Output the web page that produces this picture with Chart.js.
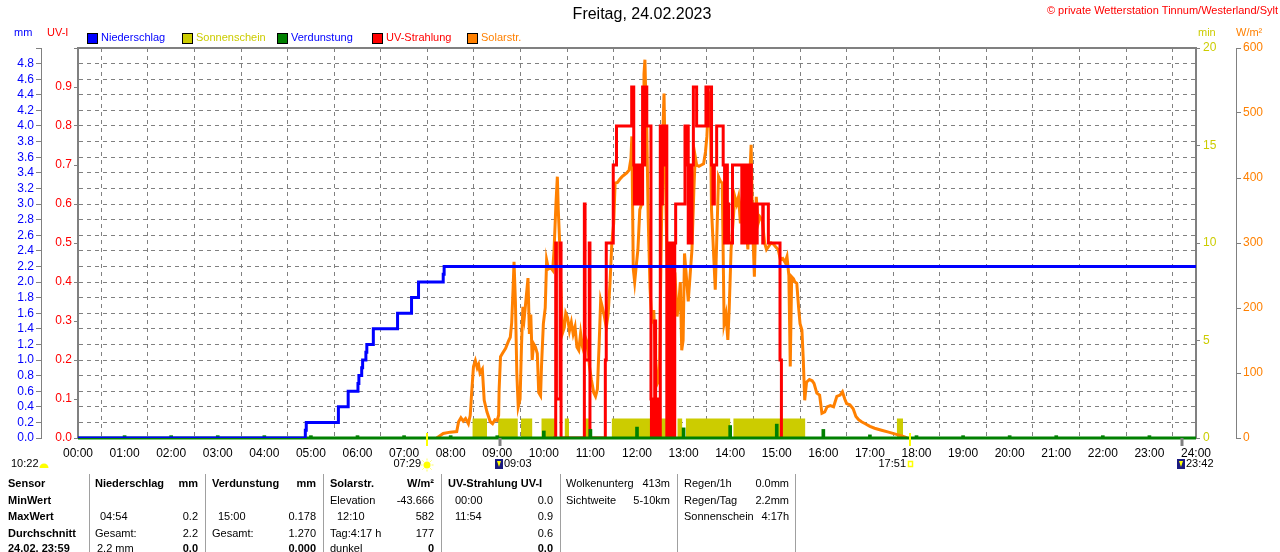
<!DOCTYPE html>
<html><head><meta charset="utf-8">
<script src="https://cdn.jsdelivr.net/npm/chart.js@4.4.0/dist/chart.umd.min.js"></script>
<style>
html,body{margin:0;padding:0;background:#fff;width:1280px;height:552px;overflow:hidden;font-family:'Liberation Sans',Arial,sans-serif;}
#wrap{position:relative;width:1280px;height:552px;overflow:hidden;}
canvas{position:absolute;left:0;top:0;}
.t{position:absolute;font-size:11px;line-height:13px;white-space:nowrap;color:#000;}
.b{font-weight:bold;}
.r{text-align:right;}
.sep{position:absolute;top:474px;width:1px;height:78px;background:#a0a0a0;}
</style></head>
<body><div id="wrap"><canvas id="c" width="1280" height="552"></canvas><div id="tbl"></div></div>
<script>
// ---------- DATA ----------
const hourTicks = [0,1,2,3,4,5,6,7,8,9,10,11,12,13,14,15,16,17,18,19,20,21,22,23,24];

// Niederschlag (mm, cumulative, step)
const rainTime = [0,4.88,4.90,5.59,5.80,6.01,6.03,6.09,6.11,6.18,6.20,6.34,6.86,7.16,7.31,7.84,7.86,24];
const rainMM   = [0,0.1,0.2,0.4,0.6,0.7,0.8,0.9,1.0,1.1,1.2,1.4,1.6,1.8,2.0,2.1,2.2,2.2];

// Sonnenschein (min) intervals
const sunStart = [8.47,9.02,9.51,9.95,10.45,10.84,11.46,12.87,13.05,14.07,17.58];
const sunEnd   = [8.78,9.44,9.75,10.24,10.54,10.97,12.69,12.97,14.00,15.61,17.71];
const sunMinutes = [1,1,1,1,1,1,1,1,1,1,1];

// Verdunstung (mm per hour)
const evapHour = [1,2,3,4,5,6,7,8,9,10,11,12,13,14,15,16,17,18,19,20,21,22,23];
const evapMM   = [0.03,0.03,0.03,0.03,0.03,0.03,0.03,0.03,0.03,0.09,0.11,0.14,0.13,0.16,0.178,0.11,0.04,0.03,0.03,0.03,0.03,0.03,0.03];

// UV-Strahlung (UV-I, step)
const uvTime = [10.20,10.255,10.27,10.35,10.37,10.87,10.885,10.975,10.99,11.32,
 11.34,11.49,11.56,11.886,11.93,11.945,11.96,11.975,11.99,12.005,
 12.02,12.035,12.05,12.07,12.085,12.10,12.12,12.155,12.165,12.21,
 12.30,12.31,12.33,12.35,12.38,12.40,12.45,12.47,12.50,12.53,
 12.545,12.58,12.60,12.64,12.69,12.72,12.75,12.79,12.81,12.83,
 13.03,13.06,13.08,13.10,13.12,13.15,13.18,13.21,13.28,13.48,
 13.51,13.53,13.60,13.63,13.66,13.71,13.85,13.88,13.91,13.94,
 13.97,14.05,14.25,14.26,14.275,14.29,14.305,14.32,14.335,14.35,
 14.365,14.38,14.395,14.41,14.425,14.44,14.455,14.47,14.485,14.50,
 14.52,14.54,14.56,14.58,14.70,14.71,14.82,15.07,15.10];
const uvIndex = [0,0.5,0.1,0.5,0,0.6,0.2,0.5,0,0.2,
 0.5,0.7,0.8,0.9,0.7,0.6,0.7,0.6,0.7,0.6,
 0.7,0.6,0.7,0.6,0.7,0.6,0.9,0.7,0.9,0.8,
 0.1,0,0.1,0,0.3,0,0.1,0,0.8,0.6,
 0.8,0.7,0.8,0,0.5,0,0.5,0,0.5,0.6,
 0.8,0.7,0.8,0.5,0.7,0.5,0.7,0.9,0.8,0.9,
 0.8,0.9,0.7,0.6,0.7,0.8,0.7,0.5,0.7,0.6,
 0.5,0.7,0.5,0.7,0.5,0.7,0.5,0.6,0.5,0.7,
 0.5,0.7,0.5,0.6,0.5,0.7,0.5,0.6,0.5,0.6,
 0.5,0.6,0.5,0.6,0.5,0.6,0.5,0.2,0];

// Solarstrahlung (W/m²)
const solarTime = [7.70,7.74,7.84,7.99,8.13,8.17,8.22,8.27,8.32,8.38,
 8.42,8.45,8.49,8.53,8.57,8.60,8.63,8.68,8.72,8.78,
 8.85,8.90,8.95,9.00,9.03,9.04,9.07,9.12,9.18,9.24,
 9.28,9.31,9.34,9.36,9.39,9.42,9.45,9.49,9.52,9.55,
 9.58,9.62,9.66,9.69,9.72,9.75,9.78,9.82,9.86,9.89,
 9.93,9.95,9.99,10.03,10.06,10.10,10.15,10.19,10.22,10.26,
 10.29,10.31,10.34,10.36,10.40,10.44,10.47,10.51,10.55,10.59,
 10.63,10.67,10.71,10.75,10.79,10.83,10.87,10.91,10.94,10.98,
 11.02,11.07,11.11,11.15,11.19,11.22,11.26,11.30,11.34,11.38,
 11.42,11.46,11.50,11.53,11.58,11.63,11.68,11.73,11.78,11.83,
 11.87,11.89,11.92,11.95,11.98,12.02,12.06,12.10,12.13,12.15,
 12.17,12.19,12.21,12.24,12.28,12.32,12.36,12.40,12.44,12.48,
 12.52,12.56,12.58,12.61,12.64,12.67,12.70,12.74,12.78,12.82,
 12.86,12.90,12.93,12.96,12.99,13.02,13.06,13.10,13.14,13.18,
 13.22,13.25,13.28,13.33,13.38,13.43,13.47,13.50,13.54,13.57,
 13.60,13.64,13.68,13.71,13.75,13.79,13.83,13.87,13.91,13.95,
 13.98,14.02,14.06,14.10,14.14,14.18,14.22,14.26,14.30,14.34,
 14.38,14.42,14.45,14.48,14.52,14.56,14.60,14.64,14.69,14.74,
 14.78,14.83,14.88,14.93,14.98,15.03,15.08,15.13,15.18,15.22,
 15.26,15.29,15.32,15.36,15.39,15.43,15.47,15.50,15.54,15.57,
 15.60,15.64,15.70,15.76,15.80,15.86,15.92,15.97,16.03,16.08,
 16.15,16.22,16.29,16.36,16.41,16.46,16.50,16.57,16.64,16.70,
 16.76,16.82,16.90,17.00,17.10,17.25,17.40,17.55,17.70,17.80];
const solarW = [0,2,7,9,10,25,31,26,30,22,
 35,69,110,119,108,113,100,106,58,40,
 25,22,28,27,35,74,125,131,138,149,
 155,177,230,271,210,100,48,60,140,202,
 185,215,246,160,190,120,145,140,130,70,
 65,110,176,200,274,260,262,258,290,360,
 402,351,300,238,161,170,192,185,165,178,
 160,171,140,135,161,140,130,151,145,110,
 90,70,64,75,150,212,200,187,170,190,
 238,300,330,392,393,398,402,405,408,412,
 430,464,260,240,262,290,351,360,470,560,
 582,520,474,340,230,176,197,120,84,90,
 300,480,530,400,290,207,110,228,238,245,
 187,210,240,135,150,284,248,210,250,290,
 380,433,420,418,420,422,440,464,525,530,
 351,290,228,300,402,395,392,176,190,151,
 200,290,330,371,360,371,330,371,365,330,
 290,400,451,330,248,371,330,340,335,300,
 290,295,300,298,294,290,274,276,270,279,
 250,110,248,245,240,238,200,176,166,120,
 58,86,90,88,84,69,66,38,40,48,
 50,48,64,66,71,60,53,51,45,33,
 28,25,22,18,15,12,9,6,3,0];

// Sun / moon event markers
const eventTimes  = [7+29/60, 9+3/60, 17+51/60, 23+42/60];
const eventLabels = ['07:29','09:03','17:51','23:42'];

const legendLabels = ['Niederschlag','Sonnenschein','Verdunstung','UV-Strahlung','Solarstr.'];
const legendTextColors = ['#0000ff','#cccc00','#0000ff','#ff0000','#ff8000'];

// ---------- BUILD ----------
const sunData = [{x:0,y:0}];
sunStart.forEach((s,i)=>{ sunData.push({x:s,y:sunMinutes[i]}); sunData.push({x:sunEnd[i],y:0}); });
sunData.push({x:24,y:0});

const FONT = "'Liberation Sans', Arial, sans-serif";
Chart.defaults.font.family = FONT;
Chart.defaults.font.size = 12;

const baselinePlugin = {
  id:'baseline',
  beforeDatasetsDraw(chart){
    const {ctx, chartArea:a} = chart;
    ctx.save();
    ctx.strokeStyle = '#808080'; ctx.lineWidth = 2;
    ctx.beginPath(); ctx.moveTo(a.left-1, a.top); ctx.lineTo(a.right+1, a.top); ctx.stroke();
    ctx.restore();
  },
  afterDatasetDraw(chart, args){
    if (chart.data.datasets[args.index].label !== 'Verdunstung') return;
    const {ctx, chartArea:a} = chart;
    const y = chart.scales.mm.getPixelForValue(0);
    ctx.save();
    ctx.strokeStyle = '#008000'; ctx.lineWidth = 3;
    ctx.beginPath(); ctx.moveTo(a.left, y); ctx.lineTo(a.right, y); ctx.stroke();
    ctx.restore();
  }
};

const decoPlugin = {
  id:'deco',
  afterDraw(chart){
    const {ctx} = chart;
    const xs = chart.scales.x;
    const bottom = chart.chartArea.bottom;
    ctx.save();
    ctx.textBaseline = 'middle';
    ctx.font = '16px ' + FONT; ctx.fillStyle = '#000'; ctx.textAlign = 'center';
    ctx.fillText('Freitag, 24.02.2023', 642, 15);
    ctx.font = '11px ' + FONT; ctx.fillStyle = '#ff0000'; ctx.textAlign = 'right';
    ctx.fillText('\u00a9 private Wetterstation Tinnum/Westerland/Sylt', 1278, 11);
    ctx.textAlign = 'left';
    ctx.fillStyle = '#0000ff'; ctx.fillText('mm', 14, 33);
    ctx.fillStyle = '#ff0000'; ctx.fillText('UV-I', 47, 33);
    ctx.fillStyle = '#cccc00'; ctx.fillText('min', 1198, 33);
    ctx.fillStyle = '#ff8000'; ctx.fillText('W/m\u00b2', 1236, 33);
    chart.data.datasets.forEach((ds, i) => {
      const x = 87 + i*95;
      ctx.fillStyle = ds.legendColor;
      ctx.fillRect(x, 33, 10, 10);
      ctx.strokeStyle = '#000'; ctx.lineWidth = 1;
      ctx.strokeRect(x+0.5, 33.5, 10, 10);
      ctx.fillStyle = legendTextColors[i];
      ctx.fillText(legendLabels[i], x+14, 38);
    });
    ctx.fillStyle = '#000'; ctx.textAlign = 'left';
    ctx.fillText('10:22', 11, 464);
    ctx.fillStyle = '#ffff00';
    ctx.beginPath(); ctx.arc(44, 468, 4.5, Math.PI, 0); ctx.closePath(); ctx.fill();
    eventTimes.forEach((t, i) => {
      const px = Math.round(xs.getPixelForValue(t));
      const sun = (i === 0 || i === 2);
      ctx.strokeStyle = sun ? '#ffff00' : '#808080';
      ctx.lineWidth = sun ? 2 : 3;
      ctx.beginPath(); ctx.moveTo(px, sun ? bottom-5 : bottom); ctx.lineTo(px, bottom+8); ctx.stroke();
      ctx.fillStyle = '#000';
      if (i === 0) {
        ctx.textAlign = 'right'; ctx.fillText(eventLabels[i], px-6, 464);
        ctx.fillStyle = '#ffff00';
        ctx.beginPath(); ctx.arc(px, 465, 3.5, 0, Math.PI*2); ctx.fill();
        ctx.strokeStyle = '#ffff60'; ctx.lineWidth = 1;
        for (let k=0;k<8;k++){ const an=k*Math.PI/4; ctx.beginPath(); ctx.moveTo(px+Math.cos(an)*4.5, 465+Math.sin(an)*4.5); ctx.lineTo(px+Math.cos(an)*6.5, 465+Math.sin(an)*6.5); ctx.stroke(); }
      } else if (i === 2) {
        ctx.textAlign = 'right'; ctx.fillText(eventLabels[i], px-4, 464);
        ctx.strokeStyle = '#ffff00'; ctx.lineWidth = 1.5;
        ctx.strokeRect(px-1.5, 461.5, 4, 5);
      } else {
        ctx.fillStyle = '#1a1a80'; ctx.fillRect(px-5, 459, 8, 10);
        ctx.fillStyle = '#ffff00';
        ctx.beginPath(); ctx.moveTo(px-3, 461); ctx.lineTo(px+1, 461); ctx.lineTo(px-1, 467); ctx.closePath(); ctx.fill();
        ctx.fillStyle = '#000'; ctx.textAlign = 'left'; ctx.fillText(eventLabels[i], px+4, 464);
      }
    });
    ctx.restore();
  }
};

new Chart(document.getElementById('c'), {
  type:'line',
  data:{ datasets:[
    {label:'Niederschlag', legendColor:'#0000ff', data: rainTime.map((t,i)=>({x:t,y:rainMM[i]})), yAxisID:'mm',
     borderColor:'#0000ff', borderWidth:3, stepped:true, pointRadius:0, fill:false, order:0},
    {label:'Sonnenschein', legendColor:'#cccc00', data: sunData, yAxisID:'min',
     borderColor:'rgba(0,0,0,0)', borderWidth:0, backgroundColor:'#cccc00', fill:'origin', stepped:true, pointRadius:0, order:4},
    {type:'bar', label:'Verdunstung', legendColor:'#008000', data: evapHour.map((h,i)=>({x:h,y:evapMM[i]})), yAxisID:'mm',
     backgroundColor:'#008000', borderWidth:0, barThickness:3, order:1},
    {label:'UV-Strahlung', legendColor:'#ff0000', data: uvTime.map((t,i)=>({x:t,y:uvIndex[i]})), yAxisID:'uv',
     borderColor:'#ff0000', borderWidth:3, stepped:true, pointRadius:0, fill:false, order:2},
    {label:'Solarstr.', legendColor:'#ff8000', data: solarTime.map((t,i)=>({x:t,y:solarW[i]})), yAxisID:'w',
     borderColor:'#ff8000', borderWidth:3, pointRadius:0, fill:false, tension:0, order:3}
  ]},
  options:{
    responsive:false, animation:false, devicePixelRatio:1, events:[],
    layout:{padding:{top:48,left:0,right:0,bottom:0}},
    plugins:{legend:{display:false}, tooltip:{enabled:false}, title:{display:false}},
    scales:{
      x:{type:'linear', min:0, max:24, offset:false, position:'bottom',
         afterBuildTicks:s=>{ s.ticks = hourTicks.map(v=>({value:v})); },
         ticks:{color:'#000', font:{size:12}, padding:8, maxRotation:0, autoSkip:false,
                callback:v=>String(v).padStart(2,'0')+':00'},
         grid:{color:'#808080', drawTicks:false, lineWidth:1},
         border:{color:'#008000', width:2, dash:[4,4]},
         afterFit:s=>{ s.height = 114; }},
      mm:{type:'linear', position:'left', weight:1, min:0, max:5,
         ticks:{stepSize:0.2, color:'#0000ff', padding:2, autoSkip:false, callback:v=> v>4.9 ? '' : Number(v).toFixed(1)},
         grid:{color:'#808080', tickLength:5, tickColor:'#808080', tickBorderDash:[]},
         border:{color:'#808080', width:1, dash:[4,4]},
         afterFit:s=>{ s.width = 41; }},
      uv:{type:'linear', position:'left', weight:0, min:0, max:1,
         ticks:{stepSize:0.1, color:'#ff0000', padding:2, autoSkip:false, callback:v=> v>0.95 ? '' : Number(v).toFixed(1)},
         grid:{drawOnChartArea:false, tickLength:4, color:'#808080'},
         border:{color:'#808080', width:2},
         afterFit:s=>{ s.width = 37; }},
      min:{type:'linear', position:'right', weight:0, min:0, max:20,
         ticks:{stepSize:5, color:'#cccc00', padding:3},
         grid:{drawOnChartArea:false, tickLength:4, color:'#808080'},
         border:{color:'#808080', width:2},
         afterFit:s=>{ s.width = 40; }},
      w:{type:'linear', position:'right', weight:1, min:0, max:600,
         ticks:{stepSize:100, color:'#ff8000', padding:2},
         grid:{drawOnChartArea:false, tickLength:5, color:'#808080'},
         border:{color:'#808080', width:1},
         afterFit:s=>{ s.width = 44; }}
    }
  },
  plugins:[baselinePlugin, decoPlugin]
});

// ---------- TABLE ----------
const rowsY = [484,501,517,534,549];
const cells = [
 ['Sensor',8,0,'l',1],['MinWert',8,1,'l',1],['MaxWert',8,2,'l',1],['Durchschnitt',8,3,'l',1],['24.02. 23:59',8,4,'l',1],
 ['Niederschlag',95,0,'l',1],['mm',198,0,'r',1],['04:54',100,2,'l',0],['0.2',198,2,'r',0],['Gesamt:',95,3,'l',0],['2.2',198,3,'r',0],['2.2 mm',97,4,'l',0],['0.0',198,4,'r',1],
 ['Verdunstung',212,0,'l',1],['mm',316,0,'r',1],['15:00',218,2,'l',0],['0.178',316,2,'r',0],['Gesamt:',212,3,'l',0],['1.270',316,3,'r',0],['0.000',316,4,'r',1],
 ['Solarstr.',330,0,'l',1],['W/m\u00b2',434,0,'r',1],['Elevation',330,1,'l',0],['-43.666',434,1,'r',0],['12:10',337,2,'l',0],['582',434,2,'r',0],['Tag:4:17 h',330,3,'l',0],['177',434,3,'r',0],['dunkel',330,4,'l',0],['0',434,4,'r',1],
 ['UV-Strahlung UV-I',448,0,'l',1],['00:00',455,1,'l',0],['0.0',553,1,'r',0],['11:54',455,2,'l',0],['0.9',553,2,'r',0],['0.6',553,3,'r',0],['0.0',553,4,'r',1],
 ['Wolkenunterg',566,0,'l',0],['413m',670,0,'r',0],['Sichtweite',566,1,'l',0],['5-10km',670,1,'r',0],
 ['Regen/1h',684,0,'l',0],['0.0mm',789,0,'r',0],['Regen/Tag',684,1,'l',0],['2.2mm',789,1,'r',0],['Sonnenschein',684,2,'l',0],['4:17h',789,2,'r',0]
];
const seps = [89,205,323,441,560,677,795];
const tbl = document.getElementById('tbl');
cells.forEach(c=>{
  const d = document.createElement('div');
  d.className = 't' + (c[4] ? ' b' : '') + (c[3]==='r' ? ' r' : '');
  d.textContent = c[0];
  d.style.top = (rowsY[c[2]] - 7) + 'px';
  if (c[3]==='r') d.style.right = (1280 - c[1]) + 'px'; else d.style.left = c[1] + 'px';
  tbl.appendChild(d);
});
seps.forEach(x=>{ const d=document.createElement('div'); d.className='sep'; d.style.left=x+'px'; tbl.appendChild(d); });
</script>
</body></html>
